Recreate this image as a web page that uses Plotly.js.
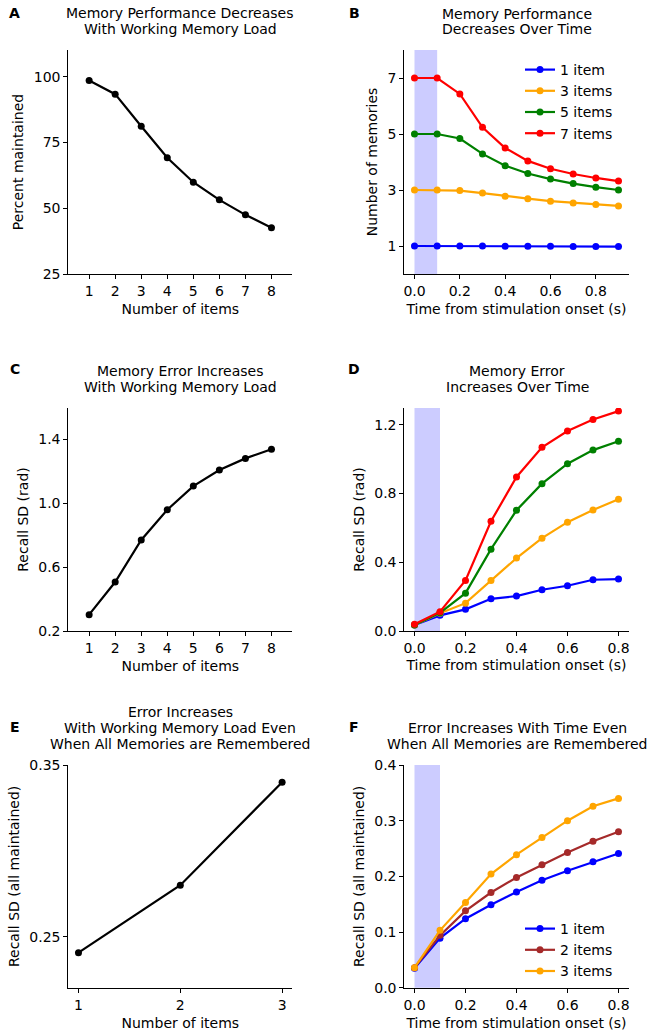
<!DOCTYPE html>
<html><head><meta charset="utf-8">
<script src="https://cdn.plot.ly/plotly-3.0.1.min.js"></script>
<style>html,body{margin:0;padding:0;background:#fff}#chart{width:654px;height:1035px}</style>
</head><body><div id="chart"></div>
<script>
// ---- Data ----
const itemsA = [1, 2, 3, 4, 5, 6, 7, 8];
const pctMaintained = [98.6, 93.4, 81.2, 69.2, 59.9, 53.2, 47.5, 42.6];

const timeB = [0.0, 0.1, 0.2, 0.3, 0.4, 0.5, 0.6, 0.7, 0.8, 0.9];
const memB1 = [1, 1, 1, 1, 0.99, 0.99, 0.99, 0.98, 0.98, 0.98];
const memB3 = [3, 3, 2.98, 2.89, 2.78, 2.69, 2.60, 2.54, 2.48, 2.43];
const memB5 = [5, 5, 4.84, 4.29, 3.87, 3.59, 3.39, 3.23, 3.10, 3.00];
const memB7 = [7, 7, 6.43, 5.24, 4.50, 4.04, 3.76, 3.57, 3.43, 3.32];

const itemsC = [1, 2, 3, 4, 5, 6, 7, 8];
const sdC = [0.302, 0.506, 0.769, 0.958, 1.106, 1.206, 1.279, 1.336];

const timeD = [0.0, 0.1, 0.2, 0.3, 0.4, 0.5, 0.6, 0.7, 0.8];
const sdD1 = [0.035, 0.091, 0.126, 0.187, 0.203, 0.240, 0.263, 0.298, 0.302];
const sdD3 = [0.035, 0.103, 0.162, 0.294, 0.424, 0.540, 0.633, 0.704, 0.766];
const sdD5 = [0.035, 0.106, 0.220, 0.476, 0.702, 0.857, 0.973, 1.052, 1.104];
const sdD7 = [0.039, 0.112, 0.294, 0.638, 0.896, 1.068, 1.163, 1.230, 1.279];

const itemsE = [1, 2, 3];
const sdE = [0.2407, 0.280, 0.340];

const timeF = [0.0, 0.1, 0.2, 0.3, 0.4, 0.5, 0.6, 0.7, 0.8];
const sdF1 = [0.035, 0.089, 0.124, 0.149, 0.172, 0.193, 0.210, 0.226, 0.241];
const sdF2 = [0.036, 0.094, 0.138, 0.171, 0.198, 0.221, 0.243, 0.263, 0.280];
const sdF3 = [0.036, 0.103, 0.153, 0.204, 0.239, 0.270, 0.300, 0.326, 0.340];

const stimWindow = [0.0, 0.1];

const ticksItems8 = [1, 2, 3, 4, 5, 6, 7, 8];
const ticksPct = [25, 50, 75, 100];
const ticksTime = [0.0, 0.2, 0.4, 0.6, 0.8];
const ticksMem = [1, 3, 5, 7];
const ticksSdC = [0.2, 0.6, 1.0, 1.4];
const ticksSdD = [0.0, 0.4, 0.8, 1.2];
const ticksItems3 = [1, 2, 3];
const ticksSdE = [0.25, 0.35];
const ticksSdF = [0.0, 0.1, 0.2, 0.3, 0.4];

// ---- Styling helpers ----
const W = 654, H = 1035;
const FONT = 'DejaVu Sans, sans-serif';
const px = v => v / W;
const py = v => 1 - v / H;
const colors = {blue: '#0000ff', orange: '#ffa500', green: '#008000', red: '#ff0000', brown: '#a52a2a'};

function line(x, y, color, xa, ya, name, legend, show) {
  return {
    x: x, y: y, xaxis: xa, yaxis: ya, type: 'scatter', mode: 'lines+markers',
    name: name || '', showlegend: !!show, legend: legend || 'legend',
    line: {color: color, width: 2.2}, marker: {color: color, size: 7}
  };
}

const traces = [
  line(itemsA, pctMaintained, '#000', 'x', 'y'),
  line(timeB, memB1, colors.blue, 'x2', 'y2', '1 item', 'legend', true),
  line(timeB, memB3, colors.orange, 'x2', 'y2', '3 items', 'legend', true),
  line(timeB, memB5, colors.green, 'x2', 'y2', '5 items', 'legend', true),
  line(timeB, memB7, colors.red, 'x2', 'y2', '7 items', 'legend', true),
  line(itemsC, sdC, '#000', 'x3', 'y3'),
  line(timeD, sdD1, colors.blue, 'x4', 'y4'),
  line(timeD, sdD3, colors.orange, 'x4', 'y4'),
  line(timeD, sdD5, colors.green, 'x4', 'y4'),
  line(timeD, sdD7, colors.red, 'x4', 'y4'),
  line(itemsE, sdE, '#000', 'x5', 'y5'),
  line(timeF, sdF1, colors.blue, 'x6', 'y6', '1 item', 'legend2', true),
  line(timeF, sdF2, colors.brown, 'x6', 'y6', '2 items', 'legend2', true),
  line(timeF, sdF3, colors.orange, 'x6', 'y6', '3 items', 'legend2', true)
];

function xax(dom, range, tickvals, fmt, title, anchor, standoff) {
  return {
    domain: dom, range: range, anchor: anchor, tickvals: tickvals, tickformat: fmt || '',
    showline: true, linecolor: '#000', linewidth: 1, mirror: false, showgrid: false, zeroline: false,
    ticks: 'outside', ticklen: 4, tickwidth: 1, tickcolor: '#000',
    tickfont: {family: FONT, size: 14, color: '#000'},
    title: {text: title, font: {family: FONT, size: 14, color: '#000'}, standoff: standoff},
    automargin: false, fixedrange: true
  };
}
const yax = xax;

const xL = [px(68.3), px(292.3)];
const xR = [px(404.3), px(628.7)];
const yTop = [py(274), py(50)];
const yMid = [py(631), py(408)];
const yBot = [py(987.7), py(765)];

const layout = {
  width: W, height: H, margin: {l: 0, r: 0, t: 0, b: 0},
  paper_bgcolor: '#fff', plot_bgcolor: 'rgba(0,0,0,0)',
  font: {family: FONT, size: 14, color: '#000'},
  xaxis: xax(xL, [0.2, 8.8], ticksItems8, 'd', 'Number of items', 'y', 6),
  yaxis: yax(yTop, [25, 110.2], ticksPct, 'd', 'Percent maintained', 'x', 6),
  xaxis2: xax(xR, [-0.045, 0.945], ticksTime, '.1f', 'Time from stimulation onset (s)', 'y2', 6),
  yaxis2: yax(yTop, [0, 8], ticksMem, 'd', 'Number of memories', 'x2', 6),
  xaxis3: xax(xL, [0.2, 8.8], ticksItems8, 'd', 'Number of items', 'y3', 6),
  yaxis3: yax(yMid, [0.2, 1.594], ticksSdC, '.1f', 'Recall SD (rad)', 'x3', 6),
  xaxis4: xax(xR, [-0.04, 0.84], ticksTime, '.1f', 'Time from stimulation onset (s)', 'y4', 5),
  yaxis4: yax(yMid, [0, 1.297], ticksSdD, '.1f', 'Recall SD (rad)', 'x4', 6),
  xaxis5: xax(xL, [0.9, 3.1], ticksItems3, 'd', 'Number of items', 'y5', 6),
  yaxis5: yax(yBot, [0.2203, 0.35], ticksSdE, '.2f', 'Recall SD (all maintained)', 'x5', 6),
  xaxis6: xax(xR, [-0.04, 0.84], ticksTime, '.1f', 'Time from stimulation onset (s)', 'y6', 6),
  yaxis6: yax(yBot, [0, 0.4], ticksSdF, '.1f', 'Recall SD (all maintained)', 'x6', 6),
  legend: {x: px(520), y: py(54), xanchor: 'left', yanchor: 'top', bgcolor: 'rgba(0,0,0,0)',
           font: {family: FONT, size: 14, color: '#000'}, tracegroupgap: 0},
  legend2: {x: px(520), y: py(913), xanchor: 'left', yanchor: 'top', bgcolor: 'rgba(0,0,0,0)',
            font: {family: FONT, size: 14, color: '#000'}, tracegroupgap: 0},
  shapes: [
    ['x2', 'y2 domain'], ['x4', 'y4 domain'], ['x6', 'y6 domain']
  ].map(([xr, yr]) => ({type: 'rect', xref: xr, yref: yr, x0: stimWindow[0], x1: stimWindow[1], y0: 0, y1: 1,
    fillcolor: '#ccccff', line: {width: 0}, layer: 'below'})),
  annotations: []
};

function ann(text, x, y, bold) {
  layout.annotations.push({text: bold ? '<b>' + text + '</b>' : text, x: px(x), y: py(y), xref: 'paper', yref: 'paper',
    xanchor: 'center', yanchor: 'middle', showarrow: false, font: {family: FONT, size: 14, color: '#000'}});
}
// Panel letters
ann('A', 14, 13, true); ann('B', 354, 13, true);
ann('C', 15, 369, true); ann('D', 354, 369, true);
ann('E', 15, 727, true); ann('F', 354, 727, true);
// Titles
ann('Memory Performance Decreases', 180, 13); ann('With Working Memory Load', 180, 29);
ann('Memory Performance', 517, 14); ann('Decreases Over Time', 517, 29.5);
ann('Memory Error Increases', 180, 371); ann('With Working Memory Load', 180, 387);
ann('Memory Error', 517, 371); ann('Increases Over Time', 517, 387);
ann('Error Increases', 180, 711.5); ann('With Working Memory Load Even', 180, 727.5); ann('When All Memories are Remembered', 180, 743.5);
ann('Error Increases With Time Even', 517, 727.5); ann('When All Memories are Remembered', 517, 743.5);

Plotly.newPlot('chart', traces, layout, {displayModeBar: false, staticPlot: true});
</script></body></html>
